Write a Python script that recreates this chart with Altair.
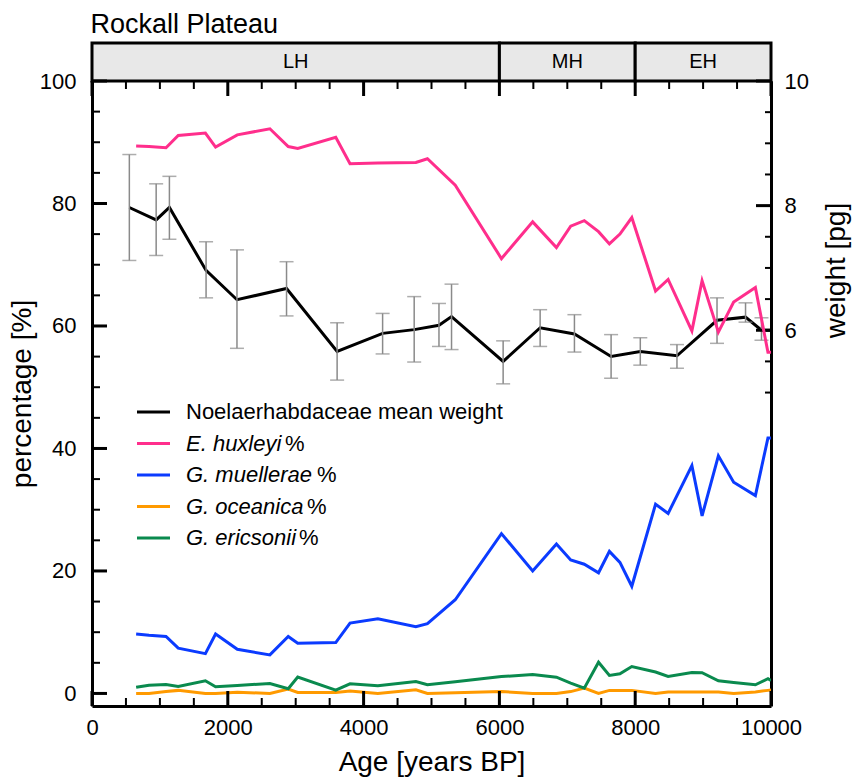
import altair as alt
import pandas as pd

FONT = "Liberation Sans"

# ---- species percentages (sample ages, years BP) ----
AGE = [650, 840, 1090, 1270, 1670, 1820, 2140, 2620, 2890, 3030, 3590, 3800, 4210,
       4770, 4940, 5350, 6030, 6490, 6840, 7050, 7250, 7460, 7620, 7775, 7950, 8300,
       8485, 8835, 8985, 9225, 9450, 9770, 9955, 10000]
EHUX = [89.4, 89.3, 89.1, 91.1, 91.5, 89.2, 91.2, 92.2, 89.3, 89.0, 90.8, 86.5, 86.6,
        86.7, 87.3, 83.0, 71.0, 77.0, 72.8, 76.3, 77.2, 75.4, 73.4, 75.0, 77.7, 65.7,
        67.6, 59.2, 67.4, 59.0, 63.9, 66.3, 55.7, 55.7]
GMUE = [9.7, 9.5, 9.3, 7.4, 6.5, 9.7, 7.2, 6.3, 9.3, 8.2, 8.3, 11.5, 12.2,
        10.9, 11.4, 15.3, 26.1, 20.0, 24.4, 21.8, 21.1, 19.7, 23.2, 21.4, 17.5, 30.9,
        29.4, 37.2, 29.0, 38.8, 34.5, 32.3, 41.7, 41.7]
GOCE = [0.0, 0.0, 0.3, 0.5, 0.0, 0.0, 0.2, 0.0, 0.7, 0.15, 0.15, 0.4, 0.0,
        0.6, 0.0, 0.1, 0.3, 0.0, 0.0, 0.3, 0.87, 0.0, 0.5, 0.5, 0.5, 0.0,
        0.25, 0.25, 0.25, 0.25, 0.0, 0.25, 0.5, 0.55]
GERI = [1.0, 1.35, 1.47, 1.14, 2.07, 1.09, 1.3, 1.63, 0.77, 2.67, 0.54, 1.58, 1.26,
        1.96, 1.42, 1.9, 2.75, 3.1, 2.66, 1.7, 0.87, 5.1, 2.94, 3.2, 4.4, 3.5,
        2.77, 3.43, 3.38, 2.07, 1.8, 1.42, 2.4, 2.1]

SERIES = ["E. huxleyi", "G. muellerae", "G. oceanica", "G. ericsonii"]
COLORS = ["#ff2e8c", "#0b3bff", "#ff9a00", "#0a8a4e"]

# ---- Noelaerhabdaceae mean weight (pg) with error range ----
W_AGE = [550, 945, 1140, 1680, 2135, 2865, 3610, 4280, 4745, 5110, 5295, 6055, 6600,
         7105, 7645, 8075, 8615, 9205, 9625, 9860, 10000]
W_MEAN = [7.97, 7.77, 7.97, 6.96, 6.49, 6.67, 5.66, 5.95, 6.01, 6.08, 6.22, 5.50, 6.04,
          5.94, 5.58, 5.66, 5.59, 6.16, 6.21, 6.00, 6.00]
W_LO = [7.12, 7.20, 7.46, 6.52, 5.71, 6.23, 5.20, 5.62, 5.49, 5.74, 5.69, 5.14, 5.74,
        5.65, 5.23, 5.44, 5.39, 5.79, 6.13, 5.84, None]
W_HI = [8.82, 8.35, 8.47, 7.42, 7.29, 7.10, 6.12, 6.27, 6.54, 6.43, 6.74, 5.83, 6.33,
        6.25, 5.93, 5.88, 5.77, 6.52, 6.44, 6.20, None]

# ---- Holocene zones ----
ZONES = ["LH", "MH", "EH"]
ZONE_START = [0, 6000, 8000]
ZONE_END = [6000, 8000, 10000]

# ---- axis ticks ----
X_TICKS = list(range(0, 10001, 500))
PCT_TICKS = list(range(0, 101, 5))
W_TICKS = [5 + 0.5 * i for i in range(11)]

# ---- legend ----
LEG_LABEL = ["Noelaerhabdaceae mean weight", "E. huxleyi", "G. muellerae", "G. oceanica", "G. ericsonii"]
LEG_COLOR = ["#000000"] + COLORS
LEG_PCT_X = [None, 193, 225, 215, 207]

W, H = 679, 625
TICK_MAJ, TICK_MIN = 15, 8

pct_df = pd.DataFrame({
    "age": AGE * 4,
    "value": EHUX + GMUE + GOCE + GERI,
    "series": [s for s in SERIES for _ in AGE],
})
w_df = pd.DataFrame({"age": W_AGE, "w": W_MEAN, "lo": W_LO, "hi": W_HI})
zone_df = pd.DataFrame({"zone": ZONES, "start": ZONE_START, "end": ZONE_END})
leg_df = pd.DataFrame({"label": LEG_LABEL, "c": LEG_COLOR, "idx": list(range(5)),
                       "px": LEG_PCT_X})
xt_df = pd.DataFrame({"age": X_TICKS, "major": [v % 2000 == 0 for v in X_TICKS]})
pt_df = pd.DataFrame({"value": PCT_TICKS, "major": [v % 20 == 0 for v in PCT_TICKS]})
wt_df = pd.DataFrame({"w": W_TICKS, "major": [v % 2 == 0 for v in W_TICKS]})

xscale = alt.Scale(domain=[0, 10000], nice=False, zero=False)
x_bottom = alt.X("age:Q", scale=xscale,
                 axis=alt.Axis(orient="bottom", values=X_TICKS, format="d", ticks=False,
                               labelExpr="datum.value % 2000 === 0 ? datum.label : ''",
                               labelPadding=11, titlePadding=10, labelFlush=False,
                               title="Age [years BP]"))
x_top = alt.X("age:Q", scale=xscale, axis=None)

y_pct = alt.Y("value:Q", scale=alt.Scale(domain=[-2.05, 100], nice=False, zero=False),
              axis=alt.Axis(orient="left", values=PCT_TICKS, ticks=False,
                            labelExpr="datum.value % 20 === 0 ? datum.label : ''",
                            labelPadding=16, titlePadding=3, title="percentage [%]",
                            labelFlush=False))

wscale = alt.Scale(domain=[-0.03, 10], nice=False, zero=False)
y_w = alt.Y("w:Q", scale=wscale,
            axis=alt.Axis(orient="right", values=W_TICKS, format="~g", ticks=False,
                          labelExpr="datum.value % 2 === 0 ? datum.label : ''",
                          labelPadding=13, titlePadding=14, title="weight [pg]",
                          titleAngle=270, titleBaseline="top", titleY=189,
                          labelFlush=False))

# ---- percentage lines + left/bottom inward ticks ----
pct_lines = alt.Chart(pct_df).mark_line(strokeWidth=3, clip=True).encode(
    x=x_bottom, y=y_pct,
    color=alt.Color("series:N", scale=alt.Scale(domain=SERIES, range=COLORS), legend=None),
)
left_maj = alt.Chart(pt_df).transform_filter("datum.major").mark_rule(
    color="black", strokeWidth=3).encode(y=y_pct, x=alt.value(0), x2=alt.value(TICK_MAJ))
left_min = alt.Chart(pt_df).transform_filter("!datum.major").mark_rule(
    color="black", strokeWidth=2).encode(y=y_pct, x=alt.value(0), x2=alt.value(TICK_MIN))
bot_maj = alt.Chart(xt_df).transform_filter("datum.major").mark_rule(
    color="black", strokeWidth=3).encode(x=x_bottom, y=alt.value(H), y2=alt.value(H - TICK_MAJ))
bot_min = alt.Chart(xt_df).transform_filter("!datum.major").mark_rule(
    color="black", strokeWidth=2).encode(x=x_bottom, y=alt.value(H), y2=alt.value(H - TICK_MIN))
pct_group = alt.layer(pct_lines, left_maj, left_min, bot_maj, bot_min)

# ---- weight line + error bars + right/top inward ticks ----
wbase = alt.Chart(w_df)
err = wbase.mark_rule(color="#8a8a8a", strokeWidth=1.5).encode(
    x=x_top, y=alt.Y("lo:Q", scale=wscale), y2="hi:Q")
cap_lo = wbase.mark_tick(color="#8a8a8a", size=14, thickness=1.5, orient="horizontal").encode(
    x=x_top, y=alt.Y("lo:Q", scale=wscale))
cap_hi = wbase.mark_tick(color="#8a8a8a", size=14, thickness=1.5, orient="horizontal").encode(
    x=x_top, y=alt.Y("hi:Q", scale=wscale))
wline = wbase.mark_line(color="black", strokeWidth=3, clip=True).encode(x=x_top, y=y_w)
right_maj = alt.Chart(wt_df).transform_filter("datum.major").mark_rule(
    color="black", strokeWidth=3).encode(y=y_w, x=alt.value(W), x2=alt.value(W - TICK_MAJ))
right_min = alt.Chart(wt_df).transform_filter("!datum.major").mark_rule(
    color="black", strokeWidth=2).encode(y=y_w, x=alt.value(W), x2=alt.value(W - 6))
top_maj = alt.Chart(xt_df).transform_filter("datum.major").mark_rule(
    color="black", strokeWidth=3).encode(x=x_top, y=alt.value(0), y2=alt.value(TICK_MAJ))
top_min = alt.Chart(xt_df).transform_filter("!datum.major").mark_rule(
    color="black", strokeWidth=2).encode(x=x_top, y=alt.value(0), y2=alt.value(TICK_MIN))
w_group = alt.layer(wline, err, cap_lo, cap_hi, right_maj, right_min, top_maj, top_min)

# ---- custom legend ----
leg_y = alt.Y("idx:Q", scale=alt.Scale(domain=[0, 4], range=[331, 457]), axis=None)
lbase = alt.Chart(leg_df)
leg_rules = lbase.mark_rule(strokeWidth=3).encode(
    x=alt.value(45), x2=alt.value(78), y=leg_y,
    color=alt.Color("c:N", scale=None))
leg_text0 = lbase.mark_text(align="left", baseline="middle", font=FONT, fontSize=22,
                            color="black").encode(
    x=alt.value(94), y=leg_y, text="label:N").transform_filter("datum.idx === 0")
leg_text1 = lbase.mark_text(align="left", baseline="middle", font=FONT, fontSize=22,
                            fontStyle="italic", color="black").encode(
    x=alt.value(94), y=leg_y, text="label:N").transform_filter("datum.idx > 0")
leg_pct = lbase.mark_text(align="left", baseline="middle", font=FONT, fontSize=22,
                          color="black").encode(
    x=alt.X("px:Q", scale=None), y=leg_y, text=alt.value("%")).transform_filter("datum.idx > 0")
leg_group = alt.layer(leg_rules, leg_text0, leg_text1, leg_pct)

main = alt.layer(w_group, pct_group, leg_group).resolve_scale(
    x="independent", y="independent", color="independent"
).properties(width=W, height=H)

# ---- zone strip ----
zscale = alt.Scale(domain=[0, 10000], nice=False, zero=False)
zbase = alt.Chart(zone_df)
zrect = zbase.mark_rect(fill="#e8e8e8", stroke="black", strokeWidth=3).encode(
    x=alt.X("start:Q", scale=zscale, axis=None), x2="end:Q")
ztext = zbase.transform_calculate(mid="(datum.start + datum.end) / 2").mark_text(
    font=FONT, fontSize=20, color="black", baseline="middle").encode(
    x=alt.X("mid:Q", scale=zscale, axis=None), text="zone:N")
strip = alt.layer(zrect, ztext).properties(
    width=W, height=38,
    title=alt.TitleParams("Rockall Plateau", anchor="start", font=FONT, fontSize=27,
                          fontWeight="normal", color="black", offset=3))

chart = alt.vconcat(strip, main, spacing=0, bounds="flush").properties(
    padding={"left": 8, "top": 10, "right": 1, "bottom": 1}
).configure_axis(
    domainColor="black", domainWidth=3, tickColor="black", grid=False,
    labelFont=FONT, labelFontSize=22, labelColor="black",
    titleFont=FONT, titleFontSize=28, titleFontWeight="normal", titleColor="black",
).configure_view(strokeWidth=0)

chart.save("out.html", embed_options={"renderer": "svg", "actions": False})
